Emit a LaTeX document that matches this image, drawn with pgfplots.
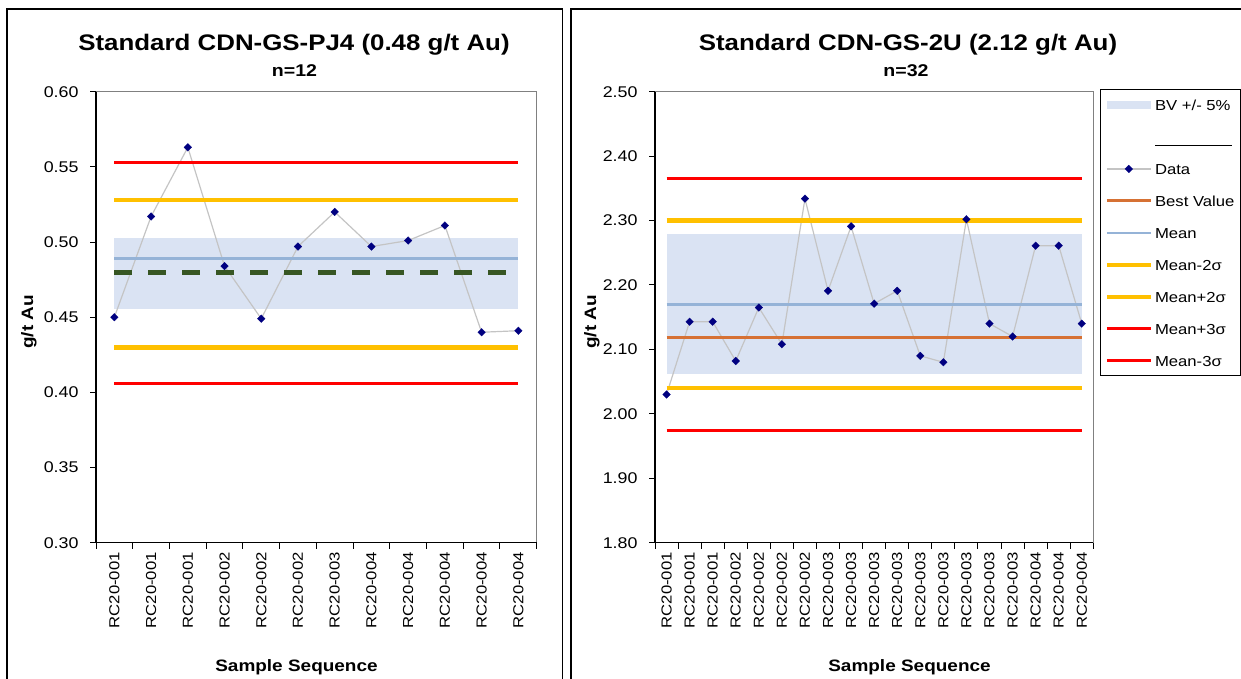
\documentclass[border=0pt]{standalone}
\usepackage{fontspec}
\setmainfont{Liberation Sans}
\usepackage{graphicx}
\usepackage{pgfplots}
\pgfplotsset{compat=1.18}
\definecolor{bandc}{RGB}{218,227,243}
\definecolor{meanc}{RGB}{149,179,215}
\definecolor{bestc}{RGB}{214,113,52}
\definecolor{greenc}{RGB}{55,86,35}
\definecolor{orangec}{RGB}{255,192,0}
\definecolor{redc}{RGB}{255,0,0}
\definecolor{datac}{RGB}{196,196,196}
\definecolor{navyc}{RGB}{0,0,128}
\newcommand{\sx}[1]{\scalebox{1.15}[1]{#1}}
\pgfplotsset{
  linelegend/.style={legend image code/.code={\draw[##1] (0pt,0pt) -- (44pt,0pt);}},
  datalegend/.style={legend image code/.code={\draw[##1,mark repeat=2,mark phase=2] plot coordinates {(0pt,0pt) (22pt,0pt) (44pt,0pt)};}},
  bandlegend/.style={legend image code/.code={\fill[##1] (0pt,-4pt) rectangle (44pt,4pt);}},
  ctrl/.style={
    scale only axis,
    axis line style={draw=black!50,line width=1pt},
    after end axis/.code={\draw[black,line width=1.2pt] (rel axis cs:0,1) -- (rel axis cs:0,0) -- (rel axis cs:1,0);},
    tick align=outside, tick pos=left,
    tick style={black,line width=1pt},
    major tick length=6pt, minor tick length=6pt,
    major x tick style={draw=none},
    ytick distance=#1,
    yticklabel={\sx{\pgfmathprintnumber{\tick}}},
    yticklabel style={xshift=-8pt,font=\fontsize{15.5}{18}\selectfont,/pgf/number format/.cd,fixed,fixed zerofill,precision=2,assume math mode=true},
    xticklabel style={rotate=90,anchor=east,font=\fontsize{14.5}{17}\selectfont},
    linelegend,
  },
  dataplot/.style={color=datac,line width=1.2pt,mark=square*,mark size=2.7pt,mark options={rotate=45,fill=navyc,draw=navyc,line width=0.3pt},datalegend},
  bandplot/.style={fill=bandc,draw=none,bandlegend},
}
\begin{document}
\begin{tikzpicture}
\useasboundingbox (0pt,0pt) rectangle (1241pt,679pt);
\clip (0pt,0pt) rectangle (1241pt,679pt);
% panel frames
\draw[line width=1.8pt] (7pt,-10pt) -- (7pt,670pt) -- (562.5pt,670pt) -- (562.5pt,-10pt);
\draw[line width=1.8pt] (570.7pt,-10pt) -- (570.7pt,670pt) -- (1260pt,670pt);
% titles
\node[font=\fontsize{22.5}{27}\selectfont\bfseries,anchor=base] at (294pt,628.3pt) {\sx{Standard CDN-GS-PJ4 (0.48 g/t Au)}};
\node[font=\fontsize{17}{20}\selectfont\bfseries,anchor=base] at (294.5pt,602.3pt) {\sx{n=12}};
\node[font=\fontsize{22.5}{27}\selectfont\bfseries,anchor=base] at (908pt,628.3pt) {\sx{Standard CDN-GS-2U (2.12 g/t Au)}};
\node[font=\fontsize{17}{20}\selectfont\bfseries,anchor=base] at (906pt,602.3pt) {\sx{n=32}};
\node[font=\fontsize{16.5}{20}\selectfont\bfseries,anchor=base] at (296.5pt,7.3pt) {\sx{Sample Sequence}};
\node[font=\fontsize{16.5}{20}\selectfont\bfseries,anchor=base] at (909.5pt,7.3pt) {\sx{Sample Sequence}};
\node[font=\fontsize{16.5}{20}\selectfont\bfseries,rotate=90] at (29pt,357pt) {\sx{g/t Au}};
\node[font=\fontsize{16.5}{20}\selectfont\bfseries,rotate=90] at (592pt,357pt) {\sx{g/t Au}};

% left chart
\begin{axis}[ctrl=0.05,
  at={(96pt,136.3pt)}, anchor=south west, width=440.7pt, height=451pt,
  xmin=0.5, xmax=12.5, ymin=0.3, ymax=0.6,
  xtick={1,...,12}, minor xtick={0.5,1.5,...,12.5},
  xticklabels={\sx{RC20-001},\sx{RC20-001},\sx{RC20-001},\sx{RC20-002},\sx{RC20-002},\sx{RC20-002},\sx{RC20-003},\sx{RC20-004},\sx{RC20-004},\sx{RC20-004},\sx{RC20-004},\sx{RC20-004}},
]
\addplot[bandplot] coordinates {(1,0.4556) (12,0.4556) (12,0.5025) (1,0.5025)} -- cycle;
\addplot[dataplot] coordinates {(1,0.450) (2,0.517) (3,0.563) (4,0.484) (5,0.449) (6,0.497) (7,0.520) (8,0.497) (9,0.501) (10,0.511) (11,0.440) (12,0.441)};
\addplot[meanc,line width=2.5pt] coordinates {(1,0.489) (12,0.489)};
\addplot[greenc,line width=4.5pt,dash pattern=on 18pt off 16pt] coordinates {(1,0.4796) (12,0.4796)};
\addplot[orangec,line width=4.5pt] coordinates {(1,0.528) (12,0.528)};
\addplot[orangec,line width=4.5pt] coordinates {(1,0.430) (12,0.430)};
\addplot[redc,line width=3pt] coordinates {(1,0.553) (12,0.553)};
\addplot[redc,line width=3pt] coordinates {(1,0.406) (12,0.406)};
\end{axis}

% right chart
\begin{axis}[ctrl=0.1,
  at={(655pt,136.3pt)}, anchor=south west, width=438.3pt, height=451pt,
  xmin=0.5, xmax=19.5, ymin=1.8, ymax=2.5,
  xtick={1,...,19}, minor xtick={0.5,1.5,...,19.5},
  xticklabels={\sx{RC20-001},\sx{RC20-001},\sx{RC20-001},\sx{RC20-002},\sx{RC20-002},\sx{RC20-002},\sx{RC20-002},\sx{RC20-003},\sx{RC20-003},\sx{RC20-003},\sx{RC20-003},\sx{RC20-003},\sx{RC20-003},\sx{RC20-003},\sx{RC20-003},\sx{RC20-003},\sx{RC20-004},\sx{RC20-004},\sx{RC20-004}},
  legend cell align=left,
  legend style={at={(1.0153,1.005)},anchor=north west,draw=black,line width=1pt,
    font=\fontsize{14.5}{17}\selectfont,
    inner xsep=4pt,inner ysep=8.5pt,row sep=19pt,
    nodes={text height=12pt,text depth=1pt,inner ysep=0pt,inner xsep=2pt}},
]
\addplot[bandplot] coordinates {(1,2.0615) (19,2.0615) (19,2.2785) (1,2.2785)} -- cycle;
\addlegendentry{\sx{BV +/- 5\%}}
\addlegendimage{empty legend}
\addlegendentry{\rule[-4pt]{77pt}{1.2pt}}
\addplot[dataplot] coordinates {(1,2.030) (2,2.143) (3,2.143) (4,2.082) (5,2.165) (6,2.108) (7,2.334) (8,2.191) (9,2.291) (10,2.171) (11,2.191) (12,2.090) (13,2.080) (14,2.302) (15,2.140) (16,2.120) (17,2.261) (18,2.261) (19,2.140)};
\addlegendentry{\sx{Data}}
\addplot[bestc,line width=3pt] coordinates {(1,2.119) (19,2.119)};
\addlegendentry{\sx{Best Value}}
\addplot[meanc,line width=2.5pt] coordinates {(1,2.170) (19,2.170)};
\addlegendentry{\sx{Mean}}
\addplot[orangec,line width=4.5pt] coordinates {(1,2.040) (19,2.040)};
\addlegendentry{\sx{Mean-2σ}}
\addplot[orangec,line width=4.5pt] coordinates {(1,2.300) (19,2.300)};
\addlegendentry{\sx{Mean+2σ}}
\addplot[redc,line width=3pt] coordinates {(1,2.365) (19,2.365)};
\addlegendentry{\sx{Mean+3σ}}
\addplot[redc,line width=3pt] coordinates {(1,1.974) (19,1.974)};
\addlegendentry{\sx{Mean-3σ}}
\end{axis}
\end{tikzpicture}
\end{document}
